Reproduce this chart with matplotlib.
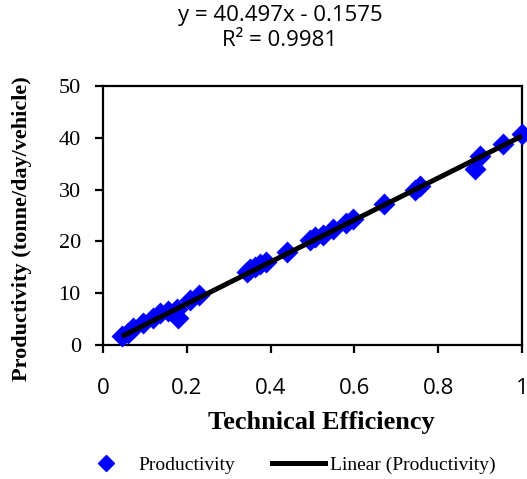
import numpy as np
import matplotlib.pyplot as plt
from matplotlib.lines import Line2D

# Technical efficiency vs productivity
efficiency = [0.045, 0.06, 0.072, 0.095, 0.12, 0.136, 0.155, 0.176, 0.18,
              0.208, 0.23, 0.343, 0.35, 0.363, 0.375, 0.39, 0.44, 0.494,
              0.506, 0.525, 0.55, 0.58, 0.597, 0.67, 0.745, 0.757, 0.888,
              0.9, 0.955, 1.0]
productivity = [1.7, 2.4, 3.3, 4.2, 5.2, 6.2, 6.6, 6.9, 5.3,
                8.7, 9.6, 14.0, 14.6, 15.0, 15.6, 16.0, 18.0, 20.3,
                20.8, 21.3, 22.3, 23.6, 24.3, 27.2, 30.0, 30.6, 34.0,
                36.4, 38.8, 40.7]
slope = 40.497
intercept = -0.1575
r2 = 0.9981

xticks = [0, 0.2, 0.4, 0.6, 0.8, 1]
yticks = [0, 10, 20, 30, 40, 50]

fig = plt.figure(figsize=(5.27, 4.79), dpi=100)
ax = fig.add_axes([0.1954, 0.2797, 0.7951, 0.5408])

ax.scatter(efficiency, productivity, marker='D', s=125, color='#0000ff',
           linewidths=0, zorder=3, clip_on=False)

xfit = np.array([min(efficiency), max(efficiency)])
ax.plot(xfit, slope * xfit + intercept, color='black', lw=3.6, zorder=4,
        solid_capstyle='butt', clip_on=False)

ax.set_xlim(0, 1)
ax.set_ylim(0, 50)
ax.set_xticks(xticks)
ax.set_xticklabels([f'{t:g}' for t in xticks])
ax.set_yticks(yticks)
for sp in ax.spines.values():
    sp.set_linewidth(1.6)
ax.tick_params(direction='out', length=6, width=1.6)
ax.tick_params(axis='x', labelsize=16, pad=18)
ax.tick_params(axis='y', labelsize=16, pad=10)
for lab in ax.get_xticklabels():
    lab.set_family('Open Sans')
for lab in ax.get_yticklabels():
    lab.set_family('Liberation Serif')

fig.text(321 / 527, 1 - 423 / 479, 'Technical Efficiency',
         family='Liberation Serif', weight='bold', fontsize=19,
         ha='center', va='center')
fig.text(22 / 527, 1 - 229 / 479, 'Productivity (tonne/day/vehicle)',
         family='Liberation Serif', weight='bold', fontsize=16,
         rotation=90, ha='center', va='center')

fig.text(280 / 527, 1 - 28 / 479, f'y = {slope}x - {abs(intercept)}\nR² = {r2}',
         ha='center', va='center', family='Open Sans', fontsize=16,
         linespacing=1.25)

handles = [
    Line2D([], [], marker='D', ls='none', color='#0000ff', markersize=8),
    Line2D([], [], color='black', lw=3.6),
]
fig.legend(handles, ['Productivity', 'Linear (Productivity)'],
           loc='center', bbox_to_anchor=(288 / 527, 1 - 465 / 479), ncol=2,
           frameon=False, prop={'family': 'Liberation Serif', 'size': 14},
           handlelength=2.7, columnspacing=1.9, handletextpad=0.3,
           borderpad=0, borderaxespad=0)

fig.savefig('out.png', dpi=100)
